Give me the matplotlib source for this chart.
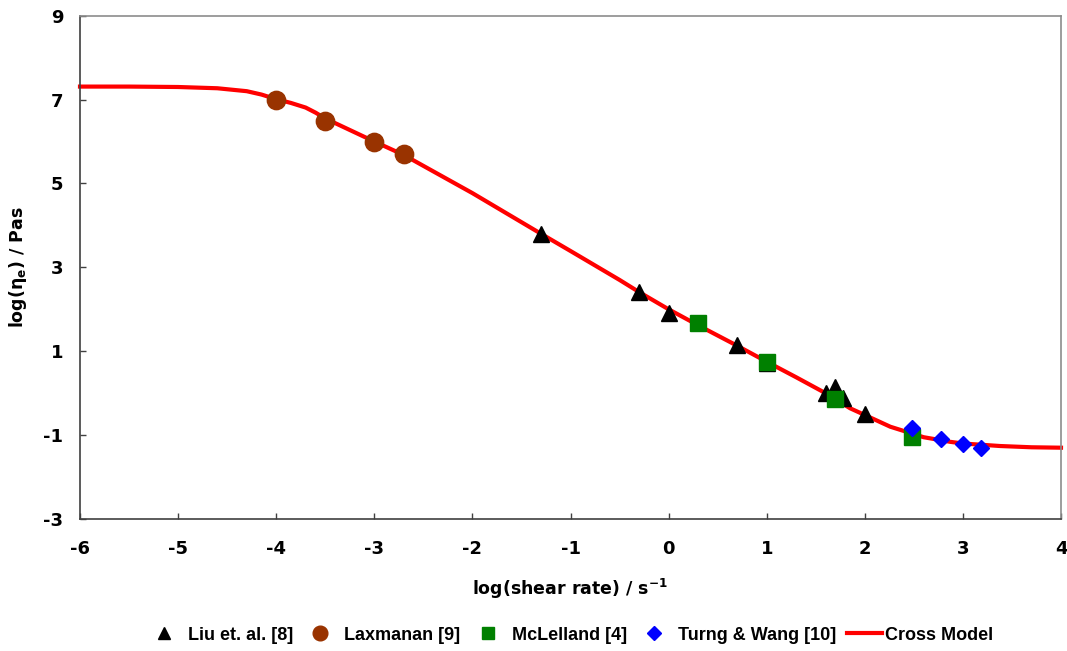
import matplotlib
matplotlib.use("Agg")
import matplotlib.pyplot as plt

plt.rcParams['font.family'] = ['DejaVu Sans']
plt.rcParams['font.weight'] = 'bold'

# ---- data ----
liu_x = [-1.3, -0.3, 0.0, 0.7, 1.0, 1.6, 1.7, 1.78, 2.0]
liu_y = [3.8, 2.41, 1.92, 1.15, 0.72, 0.0, 0.14, -0.12, -0.49]

lax_x = [-4.0, -3.5, -3.0, -2.7]
lax_y = [7.0, 6.5, 6.0, 5.7]

mcl_x = [0.3, 1.0, 1.7, 2.48]
mcl_y = [1.67, 0.74, -0.15, -1.04]

turng_x = [2.48, 2.78, 3.0, 3.18]
turng_y = [-0.82, -1.10, -1.21, -1.31]

cross_x = [-6.0, -5.5, -5.0, -4.6, -4.3, -4.15, -4.0, -3.85, -3.7, -3.6, -3.5, -3.0,
           -2.7, -2.0, -1.3, -1.0, -0.5, -0.3, 0.0, 0.3, 0.7, 1.0, 1.3, 1.6, 1.85,
           2.0, 2.26, 2.6, 2.87, 3.0, 3.38, 3.7, 4.0]
cross_y = [7.31, 7.31, 7.30, 7.27, 7.20, 7.12, 7.01, 6.92, 6.81, 6.69, 6.55, 6.0,
           5.68, 4.77, 3.8, 3.39, 2.7, 2.41, 2.0, 1.62, 1.13, 0.75, 0.38, 0.0, -0.36,
           -0.52, -0.80, -1.05, -1.16, -1.20, -1.26, -1.29, -1.30]

x_ticks = [-6, -5, -4, -3, -2, -1, 0, 1, 2, 3, 4]
y_ticks = [-3, -1, 1, 3, 5, 7, 9]

# ---- figure ----
fig = plt.figure(figsize=(10.67, 6.51), dpi=100)
ax = fig.add_axes([80/1067, 1-519/651, 981/1067, 503.3/651])

ln, = ax.plot(cross_x, cross_y, color='#FF0000', lw=3, zorder=2,
              label='Cross Model', clip_on=False)
h1, = ax.plot(liu_x, liu_y, ls='none', marker='^', ms=11.3, color='black',
              label='Liu et. al. [8]', zorder=3)
h2, = ax.plot(lax_x, lax_y, ls='none', marker='o', ms=13.2, color='#993300',
              label='Laxmanan [9]', zorder=3)
h3, = ax.plot(mcl_x, mcl_y, ls='none', marker='s', ms=11.5, color='#008000',
              label='McLelland [4]', zorder=4)
h4, = ax.plot(turng_x, turng_y, ls='none', marker='D', ms=8.5, color='#0000FF',
              label='Turng & Wang [10]', zorder=5)

ax.set_xlim(-6, 4)
ax.set_ylim(-3, 9)
ax.set_xticks(x_ticks)
ax.set_yticks(y_ticks)
ax.set_xticklabels([str(t) for t in x_ticks])
ax.set_yticklabels([str(t) for t in y_ticks])

ax.tick_params(axis='both', direction='in', length=4.5, width=1, labelsize=13,
               color='#404040')
ax.tick_params(axis='x', pad=15)
ax.tick_params(axis='y', pad=12)
for lab in ax.get_xticklabels() + ax.get_yticklabels():
    lab.set_fontweight('bold')

for s in ['left', 'bottom']:
    ax.spines[s].set_color('#404040')
    ax.spines[s].set_linewidth(1.2)
for s in ['top', 'right']:
    ax.spines[s].set_color('#8c8c8c')
    ax.spines[s].set_linewidth(1.2)

ax.set_xlabel('log(shear rate) / s$^{\\mathbf{-1}}$', fontsize=12.5,
              fontweight='bold', labelpad=14)
ax.set_ylabel('log(η$_{\\mathbf{e}}$) / Pas', fontsize=12.5, fontweight='bold',
              labelpad=10)

leg_y = 1 - 635/651
leg_font = {'family': 'Liberation Sans', 'weight': 'bold', 'size': 13}
leg1 = fig.legend(handles=[h1, h2, h3, h4], loc='center left',
                  bbox_to_anchor=(155/1067, leg_y), ncol=4, frameon=False,
                  prop=leg_font, handlelength=1.0, handletextpad=0.83,
                  columnspacing=1.0, numpoints=1, markerscale=0.8,
                  borderpad=0, borderaxespad=0)
leg2 = fig.legend(handles=[ln], loc='center left',
                  bbox_to_anchor=(847/1067, leg_y), frameon=False,
                  prop=leg_font, handlelength=1.94, handletextpad=0.17,
                  borderpad=0, borderaxespad=0)

fig.savefig('out.png', dpi=100)
